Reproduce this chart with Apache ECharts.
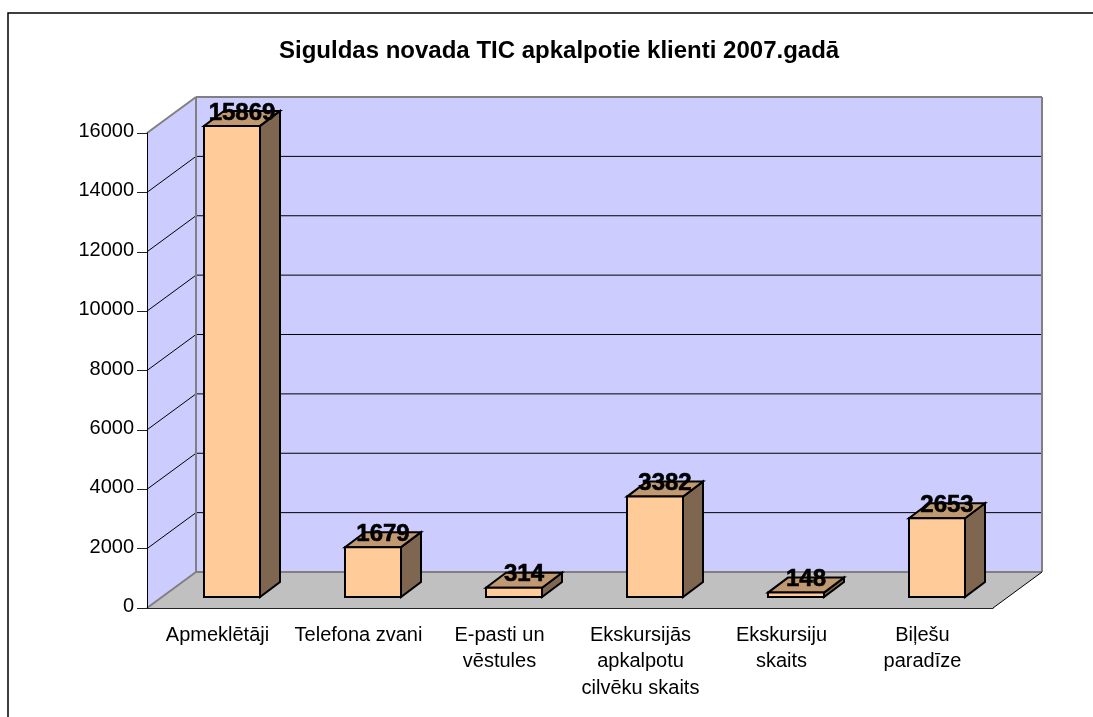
<!DOCTYPE html>
<html lang="lv">
<head>
    <meta charset="UTF-8">
    <title>Siguldas novada TIC</title>
    <script src="https://cdn.jsdelivr.net/npm/echarts@6/dist/echarts.min.js"></script>
    <style>
        html, body { margin: 0; padding: 0; background: #fff; overflow: hidden; }
    </style>
</head>
<body>
<div id="chart_bar" style="width: 1093px; height: 717px"></div>
<script>
    var chartTitle = 'Siguldas novada TIC apkalpotie klienti 2007.gadā';
    var categories = ['Apmeklētāji', 'Telefona zvani', 'E-pasti un\nvēstules', 'Ekskursijās\napkalpotu\ncilvēku skaits', 'Ekskursiju\nskaits', 'Biļešu\nparadīze'];
    var clients = [15869, 1679, 314, 3382, 148, 2653];
    var yTicks = [0, 2000, 4000, 6000, 8000, 10000, 12000, 14000, 16000];

    // oblique depth of the box and of each bar, in pixels
    var wallDx = 49, wallDy = -36;
    var barDx = 20, barDy = -15;
    var barFrontDx = 14.5, barFrontDy = -11;
    var barWidth = 56;

    function shift(p, dx, dy) {
        return [p[0] + dx, p[1] + dy];
    }

    function poly(points, fill, stroke, lineWidth) {
        return {
            type: 'polygon',
            shape: { points: points },
            style: { fill: fill, stroke: stroke, lineWidth: lineWidth, lineJoin: 'miter' }
        };
    }

    function seg(a, b, color, lineWidth) {
        return {
            type: 'line',
            shape: { x1: a[0], y1: a[1], x2: b[0], y2: b[1] },
            style: { stroke: color, lineWidth: lineWidth }
        };
    }

    function renderWalls(params, api) {
        var n = categories.length;
        var top = yTicks[yTicks.length - 1];
        var fl = api.coord([0, 0]);
        var band = api.size([1, 0])[0];
        fl = [fl[0] - band / 2, fl[1]];
        var fr = [fl[0] + band * n, fl[1]];
        var tl = [fl[0], api.coord([0, top])[1]];
        var bl = shift(fl, wallDx, wallDy);
        var br = shift(fr, wallDx, wallDy);
        var btl = shift(tl, wallDx, wallDy);
        var btr = [br[0], btl[1]];
        var children = [
            poly([fl, tl, btl, bl], '#CCCCFF', null, 0),
            poly([bl, btl, btr, br], '#CCCCFF', null, 0),
            poly([fl, bl, br, fr], '#C0C0C0', null, 0)
        ];
        yTicks.forEach(function (v) {
            if (v === 0 || v === top) return;
            var y = api.coord([0, v])[1];
            var a = [fl[0], y];
            var b = shift(a, wallDx, wallDy);
            children.push(seg(a, b, '#000', 1));
            children.push(seg(b, [br[0], b[1]], '#000', 1));
        });
        children.push(seg(fl, bl, '#808080', 2));
        children.push(seg(tl, btl, '#808080', 2));
        children.push(seg(bl, btl, '#808080', 2));
        children.push(seg(btl, btr, '#808080', 2));
        children.push(seg(btr, br, '#808080', 2));
        children.push(seg(bl, br, '#808080', 2));
        children.push(seg(fr, br, '#000', 1));
        return { type: 'group', children: children };
    }

    function renderBar(params, api) {
        var idx = api.value(0);
        var val = api.value(1);
        var base = shift(api.coord([idx, 0]), barFrontDx - barWidth / 2, barFrontDy);
        var head = shift(api.coord([idx, val]), barFrontDx - barWidth / 2, barFrontDy);
        var a = base;
        var b = [base[0] + barWidth, base[1]];
        var c = [head[0] + barWidth, head[1]];
        var d = head;
        var stroke = '#000';
        return {
            type: 'group',
            children: [
                poly([b, c, shift(c, barDx, barDy), shift(b, barDx, barDy)], '#7F6650', stroke, 2),
                poly([d, c, shift(c, barDx, barDy), shift(d, barDx, barDy)], '#C09973', stroke, 2),
                poly([a, b, c, d], '#FFCC99', stroke, 2),
                {
                    type: 'text',
                    z2: 20,
                    style: {
                        x: head[0] + barWidth / 2 + barDx / 2,
                        y: head[1] + barDy + 2,
                        text: String(val),
                        fill: '#000',
                        stroke: '#000',
                        lineWidth: 0.6,
                        font: 'bold 24px "Liberation Sans", Arial, sans-serif',
                        align: 'center',
                        verticalAlign: 'middle'
                    }
                }
            ]
        };
    }

    var option = {
        animation: false,
        backgroundColor: '#fff',
        textStyle: { fontFamily: '"Liberation Sans", Arial, sans-serif' },
        title: {
            text: chartTitle,
            left: 274,
            top: 34,
            textStyle: { color: '#000', fontSize: 24, fontWeight: 'bold', fontFamily: '"Liberation Sans", Arial, sans-serif' }
        },
        graphic: [{
            type: 'rect',
            shape: { x: 8, y: 13, width: 1200, height: 800 },
            style: { fill: 'none', stroke: '#000', lineWidth: 1.5 },
            silent: true
        }],
        grid: { left: 147, right: 100, top: 133, bottom: 109 },
        xAxis: {
            type: 'category',
            data: categories,
            z: 10,
            axisLine: { lineStyle: { color: '#222', width: 1 } },
            axisTick: { length: 9, lineStyle: { color: '#222' } },
            axisLabel: { color: '#000', fontSize: 20, lineHeight: 26.5, margin: 14, interval: 0 }
        },
        yAxis: {
            type: 'value',
            min: 0,
            max: 16000,
            interval: 2000,
            z: 10,
            axisLine: { show: true, lineStyle: { color: '#000', width: 1 } },
            axisTick: { show: true, length: 10, lineStyle: { color: '#222' } },
            // labels sit a little above their ticks in the original
            axisLabel: { color: '#000', fontSize: 20, margin: 13, verticalAlign: 'bottom', lineHeight: 3, formatter: function (v) { return String(v); } },
            splitLine: { show: false }
        },
        series: [
            {
                type: 'custom',
                z: 1,
                silent: true,
                renderItem: renderWalls,
                data: [[0, 0]],
                encode: { x: 0, y: 1 }
            },
            {
                type: 'custom',
                z: 3,
                renderItem: renderBar,
                data: clients.map(function (v, i) { return [i, v]; }),
                encode: { x: 0, y: 1 }
            }
        ]
    };

    var chart_bar = echarts.init(document.getElementById('chart_bar'));
    chart_bar.setOption(option);
</script>
</body>
</html>
